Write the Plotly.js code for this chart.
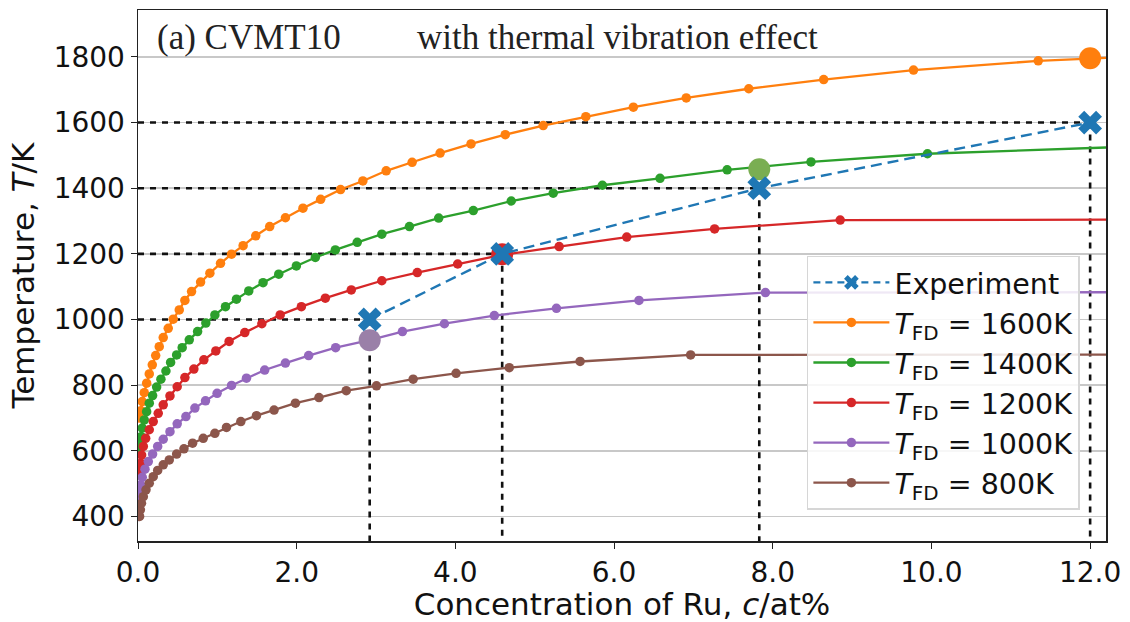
<!DOCTYPE html>
<html><head><meta charset="utf-8">
<script src="https://cdn.plot.ly/plotly-3.0.1.min.js"></script>
<style>html,body{margin:0;padding:0;background:#fff}#chart{width:1130px;height:622px}</style>
</head><body><div id="chart"></div>
<script>
// ---- data ----
const expC = [2.92, 4.59, 7.83, 12.0];
const expT = [1000, 1200, 1400, 1600];

// last entry of each curve = end of the flat tail at the right edge (no marker)
const c1600 = [0.02,0.035,0.054,0.079,0.109,0.142,0.180,0.223,0.268,0.318,0.381,0.444,0.520,0.591,0.675,0.789,0.906,1.040,1.179,1.325,1.484,1.660,1.858,2.079,2.302,2.553,2.834,3.128,3.455,3.808,4.197,4.629,5.107,5.644,6.243,6.910,7.698,8.642,9.774,11.346,12.2];
const t1600 = [700,722,750,777,806,834,862,890,917,945,973,1001,1029,1058,1085,1114,1141,1171,1199,1225,1255,1283,1310,1339,1366,1396,1422,1453,1479,1507,1535,1563,1591,1618,1647,1675,1703,1731,1760,1788,1797];

const c1400 = [0.015,0.026,0.038,0.054,0.079,0.109,0.142,0.184,0.235,0.289,0.352,0.411,0.487,0.557,0.646,0.751,0.855,0.969,1.103,1.241,1.396,1.576,1.774,1.996,2.235,2.487,2.763,3.073,3.421,3.790,4.226,4.704,5.233,5.853,6.579,7.425,8.482,9.950,12.2];
const t1400 = [598,620,643,669,694,719,745,768,794,818,843,869,892,914,938,963,989,1014,1039,1062,1087,1112,1138,1163,1189,1212,1235,1260,1283,1309,1332,1361,1385,1409,1430,1456,1480,1505,1524];

const c1200 = [0.02,0.032,0.046,0.067,0.097,0.142,0.192,0.255,0.318,0.403,0.494,0.591,0.704,0.830,0.981,1.148,1.346,1.561,1.792,2.059,2.361,2.688,3.073,3.52,4.029,4.57,5.308,6.160,7.267,8.85,12.2];
const t1200 = [540,562,587,613,638,664,689,714,740,767,795,823,849,877,904,933,960,987,1014,1039,1065,1090,1118,1143,1169,1196,1222,1251,1276,1303,1304];

const c1000 = [0.01,0.02,0.034,0.054,0.088,0.130,0.184,0.248,0.318,0.403,0.494,0.604,0.717,0.851,0.997,1.179,1.367,1.597,1.858,2.151,2.491,2.918,3.333,3.862,4.491,5.274,6.314,7.908,12.2];
const t1000 = [452,473,496,519,544,567,590,613,635,658,682,704,730,752,775,799,821,846,867,890,914,937,963,987,1012,1034,1058,1082,1083];

const c800 = [0.02,0.03,0.044,0.067,0.101,0.142,0.192,0.248,0.318,0.394,0.487,0.579,0.688,0.822,0.969,1.115,1.296,1.493,1.715,1.984,2.281,2.625,3.006,3.468,4.009,4.679,5.572,6.965,12.2];
const t800 = [400,420,440,460,481,501,521,540,557,572,590,606,623,638,653,671,689,707,724,745,762,783,798,818,836,853,872,892,893];

// highlighted points where each curve meets an experimental point
const bigC = [12.0, 7.83, 4.59, 2.92];
const bigT = [1796, 1458, 1199, 937];

const legendNames = ['Experiment',
  '<i>T</i><sub>FD</sub> = 1600K','<i>T</i><sub>FD</sub> = 1400K',
  '<i>T</i><sub>FD</sub> = 1200K','<i>T</i><sub>FD</sub> = 1000K','<i>T</i><sub>FD</sub> = 800K'];

const xTicks = [0,2,4,6,8,10,12];
const yTicks = [400,600,800,1000,1200,1400,1600,1800];

// ---- styling ----
const yRange = [325, 1943];
const xRange = [0, 12.2];
const colors = ['#1f77b4','#ff7f0e','#2ca02c','#d62728','#9467bd','#8c564b'];
const bigColors = ['#ff7f0e','#7aae52','#d62728','#9a80a8'];

// dotted guide lines from experiment points
const gx = [], gy = [];
for (let i = 0; i < expC.length; i++) {
  gx.push(0, expC[i], null, expC[i], expC[i], null);
  gy.push(expT[i], expT[i], null, expT[i], yRange[0], null);
}

function curve(c, t, color, name) {
  const n = c.length;
  return [
    {x: c.slice(n - 2), y: t.slice(n - 2), mode: 'lines', line: {color: color, width: 2.3},
     showlegend: false, hoverinfo: 'skip'},
    {x: c.slice(0, n - 1), y: t.slice(0, n - 1), mode: 'lines+markers', name: name,
     line: {color: color, width: 2.3}, marker: {color: color, size: 9.5}, showlegend: true}
  ];
}

const traces = [
  {x: gx, y: gy, mode: 'lines', line: {color: '#111', width: 2.6, dash: '6px,6px'}, showlegend: false, hoverinfo: 'skip'},
  // legend proxy for the experiment (drawn on top later)
  {x: [null], y: [null], mode: 'lines+markers', name: legendNames[0],
   line: {color: colors[0], width: 2.4, dash: '7px,5px'},
   marker: {symbol: 'x', size: 13, color: colors[0]}, showlegend: true},
  ...curve(c1600, t1600, colors[1], legendNames[1]),
  ...curve(c1400, t1400, colors[2], legendNames[2]),
  ...curve(c1200, t1200, colors[3], legendNames[3]),
  ...curve(c1000, t1000, colors[4], legendNames[4]),
  ...curve(c800, t800, colors[5], legendNames[5]),
  {x: bigC, y: bigT, mode: 'markers', marker: {color: bigColors, size: 22}, showlegend: false},
  {x: expC, y: expT, mode: 'lines+markers', name: legendNames[0],
   line: {color: colors[0], width: 2.4, dash: '11px,6px'},
   marker: {symbol: 'x', size: 21, color: colors[0]}, showlegend: false}
];

const fnt = 'DejaVu Sans, Verdana, sans-serif';
const serif = 'Liberation Serif, Times New Roman, serif';
const layout = {
  width: 1130, height: 622,
  margin: {l: 138, r: 24, t: 10, b: 81},
  paper_bgcolor: '#fff', plot_bgcolor: '#fff',
  font: {family: fnt, color: '#111', size: 27},
  showlegend: true,
  legend: {x: 0.691, y: 0.537, xanchor: 'left', yanchor: 'top',
    bgcolor: 'rgba(255,255,255,0.85)', bordercolor: '#d6d6d6', borderwidth: 1.5,
    itemwidth: 76,
    font: {family: fnt, size: 28.5, color: '#111'}, traceorder: 'normal'},
  xaxis: {range: xRange, tickvals: xTicks, tickformat: '.1f',
    showgrid: false, zeroline: false, showline: true, mirror: true,
    linecolor: '#222', linewidth: 1.5, ticks: 'outside', ticklen: 6, tickcolor: '#222',
    tickfont: {family: fnt, size: 28, color: '#111'},
    title: {text: 'Concentration of Ru, <i>c</i>/at%', font: {family: fnt, size: 31, color: '#111'}, standoff: 8}},
  yaxis: {range: yRange, tickvals: yTicks,
    showgrid: true, gridcolor: '#c8c8c8', gridwidth: 1.6, zeroline: false,
    showline: true, mirror: true, linecolor: '#222', linewidth: 1.5,
    ticks: 'outside', ticklen: 6, tickcolor: '#222',
    tickfont: {family: fnt, size: 28, color: '#111'},
    title: {text: 'Temperature, <i>T</i>/K', font: {family: fnt, size: 31, color: '#111'}, standoff: 10}},
  annotations: [
    {text: '(a) CVMT10', xref: 'paper', yref: 'paper', x: 0.0176, y: 0.949, xanchor: 'left', yanchor: 'middle',
     showarrow: false, font: {family: serif, size: 35, color: '#222'}},
    {text: 'with thermal vibration effect', xref: 'paper', yref: 'paper', x: 0.286, y: 0.949, xanchor: 'left', yanchor: 'middle',
     showarrow: false, font: {family: serif, size: 35, color: '#222'}}
  ]
};

Plotly.newPlot('chart', traces, layout, {displayModeBar: false, staticPlot: true});
</script>
</body></html>
